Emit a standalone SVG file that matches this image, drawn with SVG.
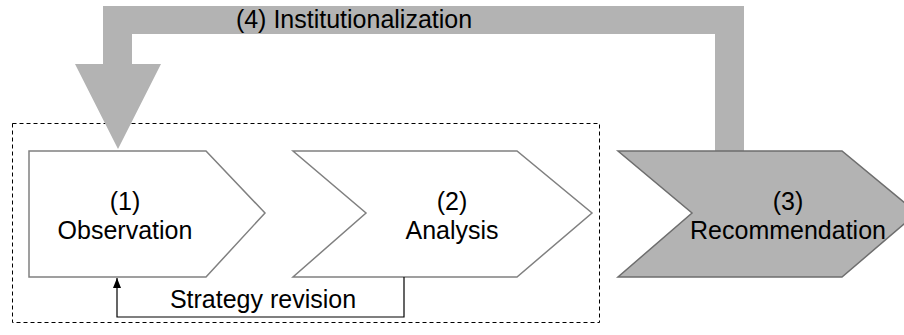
<svg xmlns="http://www.w3.org/2000/svg" width="904" height="335" viewBox="0 0 904 335">
<style>
text{font-family:"Liberation Sans",Arial,sans-serif;font-size:25px;fill:#000;text-anchor:middle}
.step{fill:#fff;stroke:#808080;stroke-width:1.5}
.step3{fill:#b3b3b3;stroke:#6e6e6e;stroke-width:1.5}
.band{fill:#b3b3b3;stroke:none}
.group{fill:none;stroke:#000;stroke-width:1;stroke-dasharray:4 3}
.conn{fill:none;stroke:#000;stroke-width:1.2}
</style>
<defs>
<marker id="ah" markerWidth="10" markerHeight="8" refX="10" refY="4" orient="auto" markerUnits="userSpaceOnUse" viewBox="0 0 10 8">
<path d="M0,0 L10,4 L0,8 Z" fill="#000"/>
</marker>
</defs>
<rect id="group-box" class="group" x="12.5" y="123.5" width="587" height="199"/>
<g id="institutionalization">
<polygon class="band" points="715,152 715,34 132,34 132,64 161,64 118,149 75,64 103,64 103,6 744,6 744,152"/>
<text x="354" y="28">(4) Institutionalization</text>
</g>
<g id="observation">
<polygon class="step" points="29,151 206,151 265,213 206,277 29,277"/>
<text x="125" y="210">(1)</text>
<text x="125" y="239">Observation</text>
</g>
<g id="analysis">
<polygon class="step" points="293,151 517,151 592,213 517,277 293,277 366,213"/>
<text x="452" y="210">(2)</text>
<text x="452" y="239">Analysis</text>
</g>
<g id="recommendation">
<polygon class="step3" points="618,151 842,151 917,213 842,277 618,277 692,213"/>
<text x="788" y="210">(3)</text>
<text x="788" y="239">Recommendation</text>
</g>
<g id="connectors">
<polyline class="conn" points="404,277 404,317 117,317 117,278" marker-end="url(#ah)"/>
<text x="263" y="308">Strategy revision</text>
</g>
</svg>
